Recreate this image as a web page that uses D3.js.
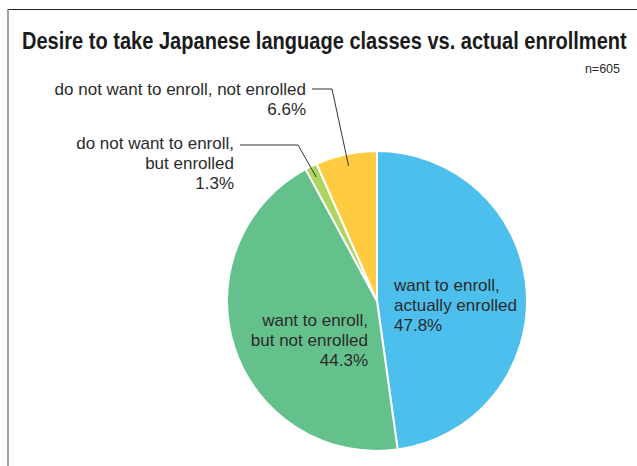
<!DOCTYPE html>
<html>
<head>
<meta charset="utf-8">
<script src="https://cdn.jsdelivr.net/npm/d3@7"></script>
<style>
  html, body { margin: 0; padding: 0; background: #fff; }
  svg { display: block; }
</style>
</head>
<body>
<svg id="chart" width="637" height="466"></svg>
<script>
// Survey responses (n=605): share of each answer, in percent
const categories = [
  "want to enroll, actually enrolled",
  "want to enroll, but not enrolled",
  "do not want to enroll, but enrolled",
  "do not want to enroll, not enrolled"
];
const values = [47.8, 44.3, 1.3, 6.6];
const colors = ["#4cbfec", "#65c18b", "#aed461", "#ffcb40"];
// label lines per slice (the value line is appended from the data)
const labelLines = [
  ["want to enroll,", "actually enrolled"],
  ["want to enroll,", "but not enrolled"],
  ["do not want to enroll,", "but enrolled"],
  ["do not want to enroll, not enrolled"]
];
const titleText = "Desire to take Japanese language classes vs. actual enrollment";
const sampleText = "n=605";

const W = 637, H = 466;
const svg = d3.select("#chart");
const font = "'Liberation Sans', Arial, sans-serif";
const textColor = "#2b2b2b";

// frame
svg.append("line").attr("x1", 8).attr("x2", W).attr("y1", 9.5).attr("y2", 9.5)
  .attr("stroke", "#222").attr("stroke-width", 1.2);
svg.append("line").attr("x1", 8).attr("x2", 8).attr("y1", 9).attr("y2", H)
  .attr("stroke", "#8a8a8a").attr("stroke-width", 1.6);

// title, squeezed horizontally into a condensed look
const titleWidth = 605;
const title = svg.append("text")
  .attr("font-family", "'Liberation Sans Narrow', 'Arial Narrow', 'Liberation Sans', Arial, sans-serif")
  .attr("font-weight", "bold").attr("font-size", 23)
  .attr("fill", "#1a1a1a")
  .text(titleText);
const natural = title.node().getComputedTextLength();
title.attr("transform", `translate(22,49) scale(${titleWidth / natural},1)`);

svg.append("text")
  .attr("x", 620).attr("y", 73)
  .attr("text-anchor", "end")
  .attr("font-family", font).attr("font-size", 12.5)
  .attr("fill", textColor)
  .text(sampleText);

// pie
const cx = 377, cy = 301, R = 150;
const data = categories.map((c, i) => ({ name: c, value: values[i], color: colors[i], lines: labelLines[i] }));
const pie = d3.pie().value(d => d.value).sort(null);
const arcs = pie(data);
const arc = d3.arc().innerRadius(0).outerRadius(R);
const g = svg.append("g").attr("transform", `translate(${cx},${cy})`);

g.selectAll("path").data(arcs).join("path")
  .attr("d", arc)
  .attr("fill", d => d.data.color)
  .attr("stroke", "#fff").attr("stroke-width", 2).attr("stroke-linejoin", "round");

// leader-line anchor points sit near the rim, on the slice's mid angle
const anchorArc = d3.arc().innerRadius(R * 0.92 - 1).outerRadius(R * 0.92 + 1);

// label placement: [x, y of first baseline, anchor] relative to pie centre
const labelPos = [
  { x: 17, y: -10, anchor: "start" },
  { x: -9, y: 25, anchor: "end" },
  { x: -143, y: -152, anchor: "end", elbow: [-137, -156, -79, -156] },
  { x: -71, y: -206, anchor: "end", elbow: [-65, -212, -45, -212] }
];
const lineH = 20;

arcs.forEach((a, i) => {
  const p = labelPos[i];
  const lines = a.data.lines.concat([a.data.value.toFixed(1) + "%"]);
  const t = g.append("text")
    .attr("font-family", font).attr("font-size", 17)
    .attr("fill", textColor)
    .attr("text-anchor", p.anchor);
  lines.forEach((ln, k) => {
    t.append("tspan").attr("x", p.x).attr("y", p.y + k * lineH).text(ln);
  });
  if (p.elbow) {
    const end = anchorArc.centroid(a);
    g.append("polyline")
      .attr("points", [[p.elbow[0], p.elbow[1]], [p.elbow[2], p.elbow[3]], end].map(q => q.join(",")).join(" "))
      .attr("fill", "none").attr("stroke", "#333").attr("stroke-width", 1);
  }
});
</script>
</body>
</html>
